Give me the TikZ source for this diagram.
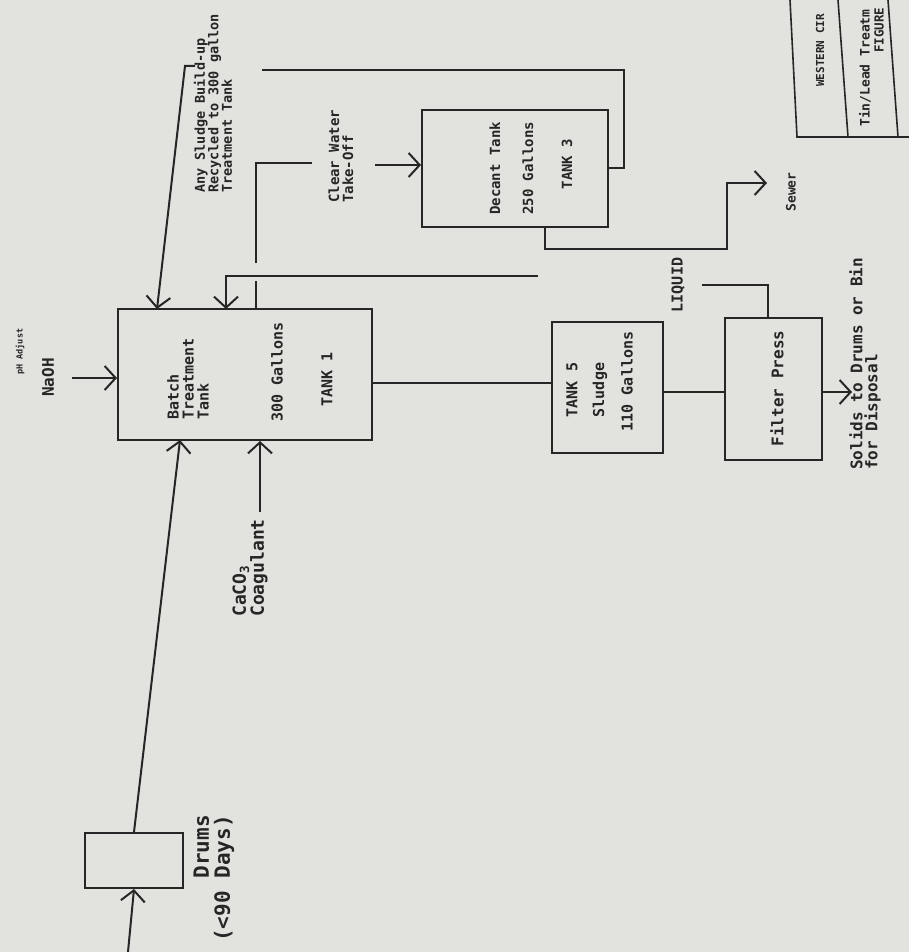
\documentclass[tikz,border=0pt]{standalone}
\usepackage{fontspec}
\newfontfamily\plotfont{DejaVu Sans Mono}
\definecolor{paper}{RGB}{226, 226, 223}
\definecolor{ink}{RGB}{38, 38, 38}
\usetikzlibrary{arrows.meta}
\tikzset{
	tankbox/.style={rectangle, draw=ink, line width=2pt, inner sep=0pt},
	vtext/.style={rotate=90, inner sep=0pt, text=ink, align=left, font=\plotfont\bfseries\fontsize{#1}{#1}\selectfont},
	pipe/.style={draw=ink, line width=2pt},
	feed/.style={pipe, -{Straight Barb[length=11pt, width=24pt, line width=2pt]}},
	frame/.style={draw=ink, line width=1.6pt},
}

\begin{document}
\begin{tikzpicture}[x=1pt, y=-1pt]
		\fill[paper] (0,0) rectangle (909,952);
		\useasboundingbox (0,0) rectangle (909,952);
		\node[tankbox, minimum width=254pt, minimum height=131pt] (tank1) at (245,374.5) {};
		\node[tankbox, minimum width=186pt, minimum height=117pt] (decant) at (515,168.5) {};
		\node[tankbox, minimum width=111pt, minimum height=131pt] (tank5) at (607.5,387.5) {};
		\node[tankbox, minimum width=97pt, minimum height=142pt] (fpress) at (773.5,389) {};
		\node[tankbox, minimum width=98pt, minimum height=55pt] (drums) at (134,860.5) {};
		\node[vtext=15, anchor=west] (t1name) at (188,420) {Batch\\Treatment\\Tank};
		\node[vtext=15, anchor=west] (t1vol) at (277,422) {300 Gallons};
		\node[vtext=15, anchor=west] (t1tag) at (327,407) {TANK 1};
		\node[vtext=14, anchor=west] (decname) at (495,215) {Decant Tank};
		\node[vtext=14, anchor=west] (decvol) at (528,215) {250 Gallons};
		\node[vtext=14] (dectag) at (567,164) {TANK 3};
		\node[vtext=15] (t5tag) at (572,390) {TANK 5};
		\node[vtext=15] (t5name) at (600,390) {Sludge};
		\node[vtext=15] (t5vol) at (627,381.5) {110 Gallons};
		\node[vtext=16] (fpname) at (777,388.5) {Filter Press};
		\node[vtext=8.5, anchor=west] (phlbl) at (20,375) {pH Adjust};
		\node[vtext=16, anchor=west] (naohlbl) at (48,397) {NaOH};
		\node[vtext=18, anchor=west] (cacolbl) at (250,617) {CaCO\textsubscript{3}\\Coagulant};
		\node[vtext=21, anchor=east, align=right] (drumlbl) at (214,815) {Drums\\(<90 Days)};
		\node[vtext=13.5, anchor=west] (recyclbl) at (213,193) {Any Sludge Build-up\\Recycled to 300 gallon\\Treatment Tank};
		\node[vtext=14, anchor=west] (clearlbl) at (341,203) {Clear Water\\Take-Off};
		\node[vtext=15] (liqlbl) at (678,285) {LIQUID};
		\node[vtext=13] (sewlbl) at (791,192) {Sewer};
		\node[vtext=16, anchor=west, font=\plotfont\bfseries\fontsize{16}{15}\selectfont] (solidlbl) at (865,470) {Solids to Drums or Bin\\for Disposal};
		\node[vtext=11, anchor=west] (firm) at (820,87) {WESTERN CIR};
		\node[vtext=13, anchor=west] (title) at (865,127) {Tin/Lead Treatm};
		\node[vtext=12.5, anchor=west] (fignum) at (879,53) {FIGURE};
		\coordinate (drumin) at (128,952);
		\coordinate (t1drum) at (180,440);
		\coordinate (caco) at (260,512);
		\coordinate (naoh) at (72,378);
		\coordinate (ovf) at (624,70);
		\coordinate (ovfend) at (262,70);
		\coordinate (recyc) at (195,66);
		\coordinate (recycc) at (185,66);
		\coordinate (t1recyc) at (157,309);
		\coordinate (t1clear) at (256,309);
		\coordinate (cwa) at (256,281);
		\coordinate (cwb) at (256,263);
		\coordinate (cwc) at (312,163);
		\coordinate (cwd) at (375,165);
		\coordinate (fpliq) at (768,318);
		\coordinate (liqa) at (702,285);
		\coordinate (liqb) at (538,276);
		\coordinate (t1liq) at (226,309);
		\coordinate (t1out) at (372,383);
		\coordinate (t5out) at (663,392);
		\coordinate (solids) at (852,392);
		\coordinate (decout) at (545,227);
		\coordinate (sewbot) at (727,249);
		\coordinate (sewer) at (767,183);
		\draw[feed] (drumin) -- (drums.south);
		\draw[feed] (drums.north) -- (t1drum);
		\draw[feed] (caco) -- (caco |- tank1.south);
		\draw[feed] (naoh) -- (naoh -| tank1.west);
		\draw[pipe] (decant.east) -| (ovf) -- (ovfend);
		\draw[feed] (recyc) -- (recycc) -- (t1recyc);
		\draw[pipe] (t1clear) -- (cwa);
		\draw[pipe] (cwb) |- (cwc);
		\draw[feed] (cwd) -- (cwd -| decant.west);
		\draw[pipe] (fpliq) |- (liqa);
		\draw[feed] (liqb) -| (t1liq);
		\draw[pipe] (t1out) -- (t1out -| tank5.west);
		\draw[pipe] (t5out) -- (t5out -| fpress.west);
		\draw[feed] (solids -| fpress.east) -- (solids);
		\draw[feed] (decout) |- (sewbot) |- (sewer);
		\draw[frame] (790,0) -- (797,137) -- (909,137);
		\draw[frame] (838,0) -- (848,137);
		\draw[frame] (888,0) -- (898,137);
	\end{tikzpicture}
\end{document}
